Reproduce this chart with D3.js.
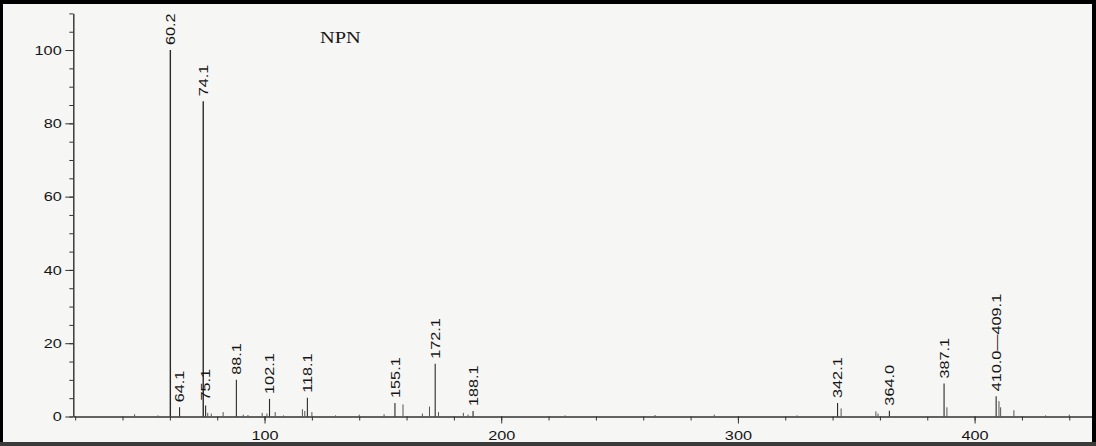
<!DOCTYPE html>
<html>
<head>
<meta charset="utf-8">
<script src="https://cdn.jsdelivr.net/npm/d3@7/dist/d3.min.js"></script>
<style>
  html, body { margin: 0; padding: 0; background: #f6f6f4; overflow: hidden; }
  svg { display: block; }
</style>
</head>
<body>
<svg id="chart" width="1096" height="446"></svg>
<script>
// ---- data ----
const title = "NPN";
const peakMz        = [60.2, 64.1, 74.1, 75.1, 88.1, 102.1, 118.1, 155.1, 172.1, 188.1, 342.1, 364.0, 387.1, 409.1];
const peakIntensity = [100,  2.5,  86,   3.0,  10,   4.8,   5.1,   3.7,   14.4,  1.5,   3.7,   1.6,   9.0,   5.5];
const peakLabels    = ["60.2","64.1","74.1","75.1","88.1","102.1","118.1","155.1","172.1","188.1","342.1","364.0","387.1","410.0\u2014409.1"];

const minorMz        = [45.1, 55, 76, 77.5, 82.5, 91, 93, 99, 101, 104.5, 108, 116, 117, 120, 130, 140, 150.5, 158.5, 166.7, 169.7, 173.5, 184, 186, 227, 265, 290, 325, 343.6, 358.3, 359.2, 388.3, 410.3, 411.0, 416.6, 430, 440];
const minorIntensity = [0.6,  0.3, 1.0, 0.8, 1.2,  0.5, 0.4, 1.0, 0.8, 1.2,   0.3, 2.0, 1.5, 1.2, 0.3, 0.5, 0.6,  3.3,   0.8,   2.7,   1.2,   1.0, 0.5, 0.3, 0.4, 0.5, 0.3, 2.2,   1.4,   0.8,   2.5,   4.2,   2.5,   1.7,   0.3, 0.5];

const xMajorTicks = [100, 200, 300, 400];
const yMajorTicks = [0, 20, 40, 60, 80, 100];

// ---- layout ----
const W = 1096, H = 446;
const svg = d3.select("#chart");
const stretch = 1.25;   // glyphs in the reference are drawn wide
const textColor = "#151515";

const x = d3.scaleLinear().domain([19.2, 449.6]).range([73.3, 1092]);
const y = d3.scaleLinear().domain([0, 110]).range([416.5, 13.4]);

svg.append("rect").attr("width", W).attr("height", H).attr("fill", "#f6f6f4");

// title
svg.append("text")
  .attr("transform", "translate(320,42.7) scale(1.23,1)")
  .attr("font-family", "'Liberation Serif','Times New Roman',serif")
  .attr("font-size", 16.5)
  .attr("fill", textColor)
  .text(title);

const axisColor = "#333";
const fontFam = "'Liberation Sans',Arial,sans-serif";

// y axis (major + minor)
const yMinor = svg.append("g").attr("transform", `translate(${x.range()[0]},0)`)
  .call(d3.axisLeft(y).tickValues(d3.range(0, 111, 5)).tickSize(4).tickSizeOuter(0).tickFormat(""));
const yAxis = svg.append("g").attr("transform", `translate(${x.range()[0]},0)`)
  .call(d3.axisLeft(y).tickValues(yMajorTicks).tickSize(8).tickSizeOuter(0));
yAxis.selectAll("text")
  .attr("x", 0)
  .attr("transform", "translate(-11.6,0) scale(" + stretch + ",1)");

// x axis (major + minor)
const xMinor = svg.append("g").attr("transform", `translate(0,${y(0)})`)
  .call(d3.axisBottom(x).tickValues(d3.range(20, 451, 20)).tickSize(4).tickSizeOuter(0).tickFormat(""));
const xAxis = svg.append("g").attr("transform", `translate(0,${y(0)})`)
  .call(d3.axisBottom(x).tickValues(xMajorTicks).tickSize(7).tickSizeOuter(0));
xAxis.selectAll("text")
  .attr("x", 0).attr("y", 14)
  .attr("transform", "scale(" + stretch + ",1)");

[yMinor, yAxis, xMinor, xAxis].forEach(g => {
  g.selectAll("path, line").attr("stroke", axisColor).attr("stroke-width", 1);
  g.selectAll("text").attr("font-family", fontFam).attr("font-size", 13).attr("fill", textColor);
});

// minor (unlabelled) peaks
svg.append("g").selectAll("line")
  .data(minorMz.map((m, i) => ({ m, v: minorIntensity[i] })))
  .join("line")
  .attr("x1", d => x(d.m)).attr("x2", d => x(d.m))
  .attr("y1", y(0)).attr("y2", d => y(d.v))
  .attr("stroke", "#555").attr("stroke-width", 1);

// labelled peaks
const peaks = peakMz.map((m, i) => ({ m, v: peakIntensity[i], label: peakLabels[i] }));
svg.append("g").selectAll("line")
  .data(peaks)
  .join("line")
  .attr("x1", d => x(d.m)).attr("x2", d => x(d.m))
  .attr("y1", y(0)).attr("y2", d => y(d.v))
  .attr("stroke", "#2a2a2a")
  .attr("stroke-width", d => d.v > 50 ? 1.4 : 1.1);

svg.append("g").selectAll("text")
  .data(peaks)
  .join("text")
  .attr("transform", d => `translate(${x(d.m) + 4.6},${y(d.v) - 5}) rotate(-90) scale(${stretch},1)`)
  .attr("font-family", fontFam)
  .attr("font-size", 13)
  .attr("fill", textColor)
  .attr("text-anchor", "start")
  .text(d => d.label);

// frame of the scanned picture
svg.append("rect").attr("x", 0).attr("y", 0).attr("width", W).attr("height", 4).attr("fill", "#000");
svg.append("rect").attr("x", 0).attr("y", 0).attr("width", 3).attr("height", H).attr("fill", "#000");
svg.append("rect").attr("x", W - 4).attr("y", 0).attr("width", 4).attr("height", H).attr("fill", "#000");
svg.append("rect").attr("x", 0).attr("y", H - 4).attr("width", W).attr("height", 4).attr("fill", "#3a3a3a");
</script>
</body>
</html>
